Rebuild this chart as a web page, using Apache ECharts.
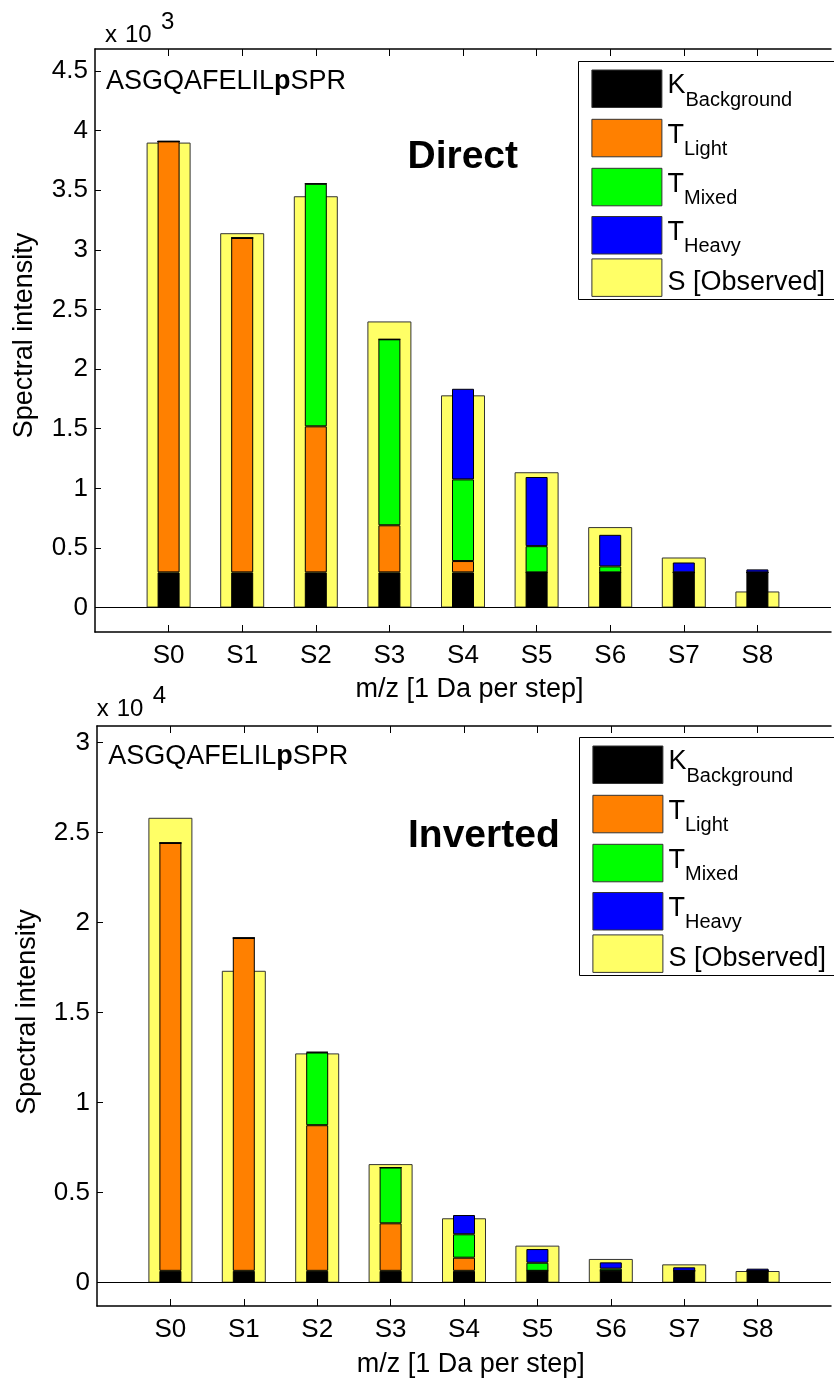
<!DOCTYPE html>
<html>
<head>
<meta charset="utf-8">
<script src="https://cdn.jsdelivr.net/npm/echarts@6/dist/echarts.min.js"></script>
<style>
  html, body { margin: 0; padding: 0; background: #fff; }
  #chart { width: 834px; height: 1381px; }
</style>
</head>
<body>
<div id="chart"></div>
<script>
// ---- data (raw spectral intensity) ----
const categories = ['S0', 'S1', 'S2', 'S3', 'S4', 'S5', 'S6', 'S7', 'S8'];
const seriesNames = ['K Background', 'T Light', 'T Mixed', 'T Heavy', 'S [Observed]'];

// Panel 1: Direct (axis shown in units of 10^3)
const directBackground = [295, 295, 295, 295, 295, 295, 295, 295, 295];
const directLight      = [3615, 2805, 1225, 395, 95, 0, 0, 0, 0];
const directMixed      = [0, 0, 2035, 1560, 685, 220, 50, 0, 0];
const directHeavy      = [0, 0, 0, 0, 760, 580, 265, 83, 25];
const directObserved   = [3900, 3140, 3450, 2400, 1780, 1135, 675, 420, 135];
const directTicks      = [0, 500, 1000, 1500, 2000, 2500, 3000, 3500, 4000, 4500];

// Panel 2: Inverted (axis shown in units of 10^4)
const invertedBackground = [660, 660, 660, 660, 660, 660, 660, 660, 660];
const invertedLight      = [23770, 18490, 8090, 2640, 730, 0, 0, 0, 0];
const invertedMixed      = [0, 0, 4040, 3100, 1300, 450, 120, 0, 0];
const invertedHeavy      = [0, 0, 30, 0, 1070, 760, 350, 195, 120];
const invertedObserved   = [25830, 17330, 12740, 6590, 3580, 2060, 1320, 1020, 650];
const invertedTicks      = [0, 5000, 10000, 15000, 20000, 25000, 30000];

const peptide = 'ASGQAFELIL';
const peptideMod = 'p';
const peptideTail = 'SPR';

// ---- styling ----
const FONT = "'Liberation Sans', Arial, Helvetica, sans-serif";
const colors = { 'K Background': '#000000', 'T Light': '#FF8000', 'T Mixed': '#00FF00', 'T Heavy': '#0000FF', 'S [Observed]': '#FFFF66' };

// the MATLAB x-limits leave one empty step on each side of S0..S8
const axisCats = [''].concat(categories, ['']);
function pad(arr) { return [null].concat(arr, [null]); }

function makeSeries(p, bg, light, mixed, heavy, obs) {
  const out = [];
  out.push({
    name: 'S [Observed]', type: 'bar', xAxisIndex: 2 * p + 1, yAxisIndex: p,
    data: pad(obs), barWidth: 44,
    itemStyle: { color: colors['S [Observed]'], borderColor: '#333', borderWidth: 1 },
    markLine: {
      silent: true, symbol: ['none', 'none'], label: { show: false },
      lineStyle: { color: '#000', width: 1, type: 'solid' },
      data: [{ yAxis: 0 }]
    }
  });
  [['K Background', bg], ['T Light', light], ['T Mixed', mixed], ['T Heavy', heavy]].forEach(([n, arr]) => {
    out.push({
      name: n, type: 'bar', stack: 'T' + p, xAxisIndex: 2 * p, yAxisIndex: p,
      data: pad(arr), barWidth: 22,
      itemStyle: { color: colors[n], borderColor: '#000', borderWidth: 1 }
    });
  });
  return out;
}

function xAxes(p) {
  const common = {
    type: 'category', gridIndex: p, data: axisCats, boundaryGap: false,
    splitLine: { show: false },
    axisLine: { onZero: false, lineStyle: { color: '#000', width: 1.5 } },
    axisTick: { inside: true, length: 7, interval: (i, v) => v !== '', lineStyle: { color: '#000', width: 1 } }
  };
  return [
    Object.assign({}, common, {
      position: 'bottom',
      axisLabel: { interval: 0, color: '#000', fontSize: 26, fontFamily: FONT, margin: 11 }
    }),
    Object.assign({}, common, { position: 'top', axisLabel: { show: false } })
  ];
}

function yAxis(p, min, max, ticks, scale) {
  return {
    type: 'value', gridIndex: p, min: min, max: max,
    splitLine: { show: false },
    axisLine: { show: true, onZero: false, lineStyle: { color: '#000', width: 1.5 } },
    axisTick: { show: true, inside: true, length: 6, customValues: ticks, lineStyle: { color: '#000', width: 1 } },
    axisLabel: { customValues: ticks, formatter: v => String(v / scale), color: '#000', fontSize: 26, fontFamily: FONT, margin: 7 }
  };
}

// ---- legend box (MATLAB-style, subscripted labels) ----
const measureCtx = document.createElement('canvas').getContext('2d');
function textWidth(s, size) { measureCtx.font = size + 'px ' + FONT; return measureCtx.measureText(s).width; }

const swatchTops = [8.5, 57.8, 106.8, 155, 197.4];
function legendGraphic(left, top) {
  const children = [{
    type: 'rect', shape: { x: 0, y: 0, width: 300, height: 238 },
    style: { fill: '#fff', stroke: '#000', lineWidth: 1 }
  }];
  seriesNames.forEach((name, i) => {
    const y0 = swatchTops[i];
    const cy = y0 + 18.75;
    children.push({
      type: 'rect', shape: { x: 13.4, y: y0, width: 70, height: 37.5 },
      style: { fill: colors[name], stroke: '#333', lineWidth: 1 }
    });
    if (name === 'S [Observed]') {
      children.push({ type: 'text', x: 89, y: cy + 4.5,
        style: { text: name, fontSize: 27, fontFamily: FONT, fill: '#000', align: 'left', verticalAlign: 'middle' } });
    } else {
      const parts = name.split(' ');
      children.push({ type: 'text', x: 89, y: cy - 3,
        style: { text: parts[0], fontSize: 27, fontFamily: FONT, fill: '#000', align: 'left', verticalAlign: 'middle' } });
      children.push({ type: 'text', x: 89 + textWidth(parts[0], 27), y: cy + 11.5,
        style: { text: parts[1], fontSize: 20, fontFamily: FONT, fill: '#000', align: 'left', verticalAlign: 'middle' } });
    }
  });
  return { type: 'group', x: left, y: top, z: 100, children: children };
}

function txt(x, y, text, size, extra) {
  return {
    type: 'text', x: x, y: y, z: 100,
    style: Object.assign({ text: text, fontSize: size, fontFamily: FONT, fill: '#000', align: 'left', verticalAlign: 'middle' }, extra || {})
  };
}
function vtxt(x, y, text, size) {
  const t = txt(x, y, text, size, { align: 'center' });
  t.rotation = Math.PI / 2;
  return t;
}
function peptideText(x, y) {
  return {
    type: 'text', x: x, y: y, z: 100,
    style: {
      text: '{n|' + peptide + '}{b|' + peptideMod + '}{n|' + peptideTail + '}',
      align: 'left', verticalAlign: 'middle',
      rich: {
        n: { fontSize: 27, fontFamily: FONT, fill: '#000' },
        b: { fontSize: 27, fontFamily: FONT, fontWeight: 'bold', fill: '#000' }
      }
    }
  };
}

const chart = echarts.init(document.getElementById('chart'), null, { renderer: 'canvas' });
chart.setOption({
  animation: false,
  backgroundColor: '#fff',
  grid: [
    { left: 95, top: 49, right: -9, height: 583 },
    { left: 97, top: 726, right: -9, height: 580 }
  ],
  xAxis: xAxes(0).concat(xAxes(1)),
  yAxis: [
    yAxis(0, -205, 4685, directTicks, 1000),
    yAxis(1, -1294, 30930, invertedTicks, 10000)
  ],
  series: makeSeries(0, directBackground, directLight, directMixed, directHeavy, directObserved)
    .concat(makeSeries(1, invertedBackground, invertedLight, invertedMixed, invertedHeavy, invertedObserved)),
  graphic: [
    // panel 1 annotations
    txt(105, 35, 'x', 24), txt(125, 35, '10', 24), txt(161, 22, '3', 24),
    peptideText(106, 81.7),
    txt(407.5, 157.5, 'Direct', 39, { fontWeight: 'bold' }),
    vtxt(25, 335.5, 'Spectral intensity', 27),
    txt(469.5, 689.5, 'm/z [1 Da per step]', 27, { align: 'center' }),
    legendGraphic(578.5, 61.5),
    // panel 2 annotations
    txt(96.7, 709, 'x', 24), txt(116.7, 709, '10', 24), txt(152.7, 696, '4', 24),
    peptideText(108.3, 757),
    txt(408, 835.8, 'Inverted', 39, { fontWeight: 'bold' }),
    vtxt(28, 1012, 'Spectral intensity', 27),
    txt(470.8, 1364.5, 'm/z [1 Da per step]', 27, { align: 'center' }),
    legendGraphic(579.5, 737.5)
  ]
});
</script>
</body>
</html>
